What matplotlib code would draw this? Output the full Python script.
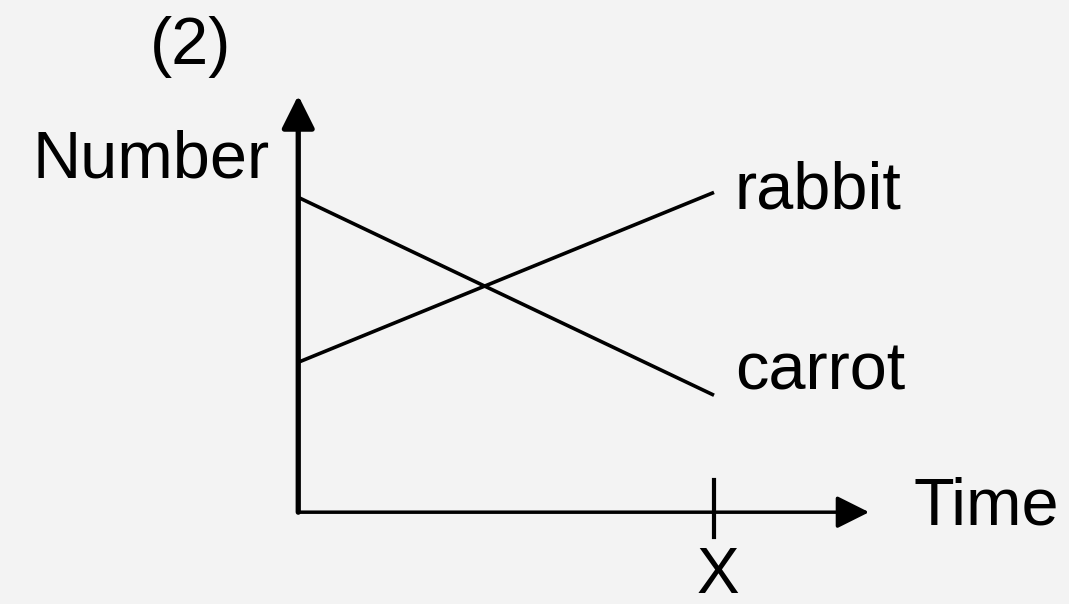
import matplotlib.pyplot as plt

# schematic values (arbitrary units), time runs from 0 to X = 1
time = [0, 1]
rabbit = [15.0, 32.0]
carrot = [31.5, 11.7]
line_labels = ['rabbit', 'carrot']

plt.rcParams['font.family'] = ['Liberation Sans', 'DejaVu Sans']

fig = plt.figure(figsize=(10.69, 6.04), dpi=100, facecolor='#f3f3f3')
ax = fig.add_axes([0.279, 0.152, 0.534, 0.69])
ax.set_facecolor('none')
ax.set_xlim(0, 1.373)
ax.set_ylim(0, 41.7)
ax.axis('off')

fs = 48

# the two lines
ax.plot(time, rabbit, color='black', lw=2.6, solid_capstyle='butt')
ax.plot(time, carrot, color='black', lw=2.6, solid_capstyle='butt')
ax.text(time[-1] + 0.05, rabbit[-1] + 0.1, line_labels[0], fontsize=fs, va='center', ha='left')
ax.text(time[-1] + 0.05, carrot[-1] + 2.3, line_labels[1], fontsize=fs, va='center', ha='left')

# axes with arrow heads
arrow = dict(arrowstyle='-|>,head_length=2.0,head_width=1.0', color='black', lw=3.8,
             shrinkA=0, shrinkB=0)
ax.annotate('', xy=(0, 41.7), xytext=(0, 0), arrowprops=arrow, annotation_clip=False)
ax.annotate('', xy=(1.373, 0), xytext=(0, 0),
            arrowprops=dict(arrow, lw=2.5, arrowstyle='-|>,head_length=2.0,head_width=1.0'),
            annotation_clip=False)

# X tick
ax.plot([1, 1], [-2.5, 3.2], color='black', lw=3, clip_on=False)
ax.text(1.01, -8.1, 'X', fontsize=46, ha='center', va='baseline')

ax.text(1.48, 0.5, 'Time', fontsize=fs, ha='left', va='center')
ax.text(-0.07, 35.2, 'Number', fontsize=fs, ha='right', va='center')
fig.text(0.178, 0.922, '(2)', fontsize=fs, ha='center', va='center')

fig.savefig('out.png', dpi=100, facecolor=fig.get_facecolor())
